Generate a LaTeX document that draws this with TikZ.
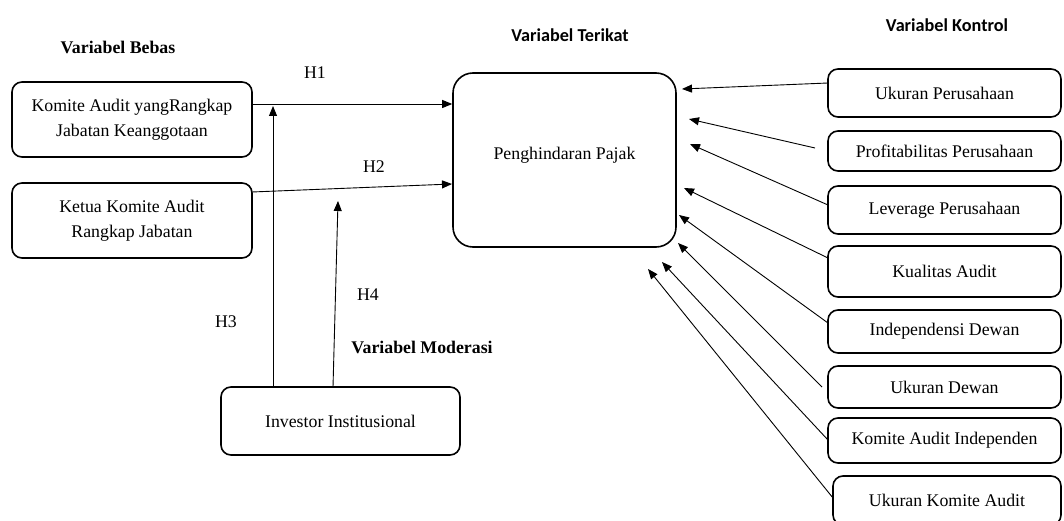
\documentclass[tikz,border=0pt]{standalone}
\usepackage{fontspec}
\setmainfont{Liberation Serif}
\newfontfamily\calibri{Carlito}
\usetikzlibrary{arrows.meta}
\begin{document}
\begin{tikzpicture}[x=1pt,y=-1pt,
  box/.style={draw, line width=1.6pt, rounded corners=10pt, align=center, inner sep=0pt, font=\fontsize{17.8}{25}\selectfont},
  arr/.style={-{Triangle[length=10pt,width=8pt]}, line width=0.9pt},
  lbl/.style={font=\fontsize{17.8}{20}\selectfont, inner sep=0pt},
  hserif/.style={font=\fontsize{17.8}{20}\selectfont\bfseries, inner sep=0pt},
  hsans/.style={font=\fontsize{18.2}{20}\selectfont\calibri\bfseries, inner sep=0pt}]
\useasboundingbox (0,0) rectangle (1064,521);
\clip (0,0) rectangle (1064,521);
% headings
\node[hserif] (hbebas) at (118,47) {Variabel Bebas};
\node[hsans] (hterikat) at (570,35) {Variabel Terikat};
\node[hsans] (hkontrol) at (947,25) {Variabel Kontrol};
\node[hserif] (hmoderasi) at (422,347) {Variabel Moderasi};
% left boxes
\node[box, minimum width=240pt, minimum height=75pt] (A) at (132,119.5) {Komite Audit yangRangkap\\Jabatan Keanggotaan};
\node[box, minimum width=240pt, minimum height=75pt] (B) at (132,220.5) {Ketua Komite Audit\\Rangkap Jabatan};
% main box
\node[box, rounded corners=20pt, minimum width=223pt, minimum height=174pt] (Y) at (564.5,160) {};
\node[lbl] (Ylab) at (564.5,155) {Penghindaran Pajak};
% moderator
\node[box, minimum width=239pt, minimum height=68pt] (I) at (340.5,421) {Investor Institusional};
% right boxes
\node[box, minimum width=233pt, minimum height=48pt] (R1) at (944.5,93) {Ukuran Perusahaan};
\node[box, minimum width=233pt, minimum height=40pt] (R2) at (944.5,151) {Profitabilitas Perusahaan};
\node[box, minimum width=233pt, minimum height=48pt] (R3) at (944.5,210) {Leverage Perusahaan};
\node[box, minimum width=233pt, minimum height=51pt] (R4) at (944.5,271.5) {Kualitas Audit};
\node[box, minimum width=233pt, minimum height=43pt] (R5) at (944.5,331.5) {Independensi Dewan};
\node[box, minimum width=233pt, minimum height=42pt] (R6) at (944.5,387) {Ukuran Dewan};
\node[box, minimum width=233pt, minimum height=45pt] (R7) at (944.5,440.5) {Komite Audit Independen};
\node[box, minimum width=228pt, minimum height=49pt] (R8) at (947,500.5) {Ukuran Komite Audit};
% hypothesis labels
\node[lbl] (h1) at (315,73) {H1};
\node[lbl] (h2) at (374,167) {H2};
\node[lbl] (h3) at (226,322) {H3};
\node[lbl] (h4) at (368,295) {H4};
% helper coordinates
\coordinate (yH1) at (0,104);
\coordinate (sH2) at (252,192);
\coordinate (tH2) at (452,184);
\coordinate (tH3) at (273,106);
\coordinate (sH4) at (333,387);
\coordinate (tH4) at (338,201);
\coordinate (s1) at (828,83);
\coordinate (s2) at (815,148);
\coordinate (s3) at (828,205);
\coordinate (s4) at (828,258);
\coordinate (s5) at (828,323);
\coordinate (s6) at (822,387);
\coordinate (s7) at (828,440);
\coordinate (s8) at (833,498);
\coordinate (t1) at (682,89);
\coordinate (t2) at (689,119);
\coordinate (t3) at (690,144);
\coordinate (t4) at (684,188);
\coordinate (t5) at (679,215);
\coordinate (t6) at (678,243);
\coordinate (t7) at (662,262);
\coordinate (t8) at (648,269);
% connectors
\draw[arr] (A.east |- yH1) -- (Y.west |- yH1);
\draw[arr] (sH2) -- (tH2);
\draw[arr] (I.north -| tH3) -- (tH3);
\draw[arr] (sH4) -- (tH4);
\draw[arr] (s1) -- (t1);
\draw[arr] (s2) -- (t2);
\draw[arr] (s3) -- (t3);
\draw[arr] (s4) -- (t4);
\draw[arr] (s5) -- (t5);
\draw[arr] (s6) -- (t6);
\draw[arr] (s7) -- (t7);
\draw[arr] (s8) -- (t8);
\end{tikzpicture}
\end{document}
